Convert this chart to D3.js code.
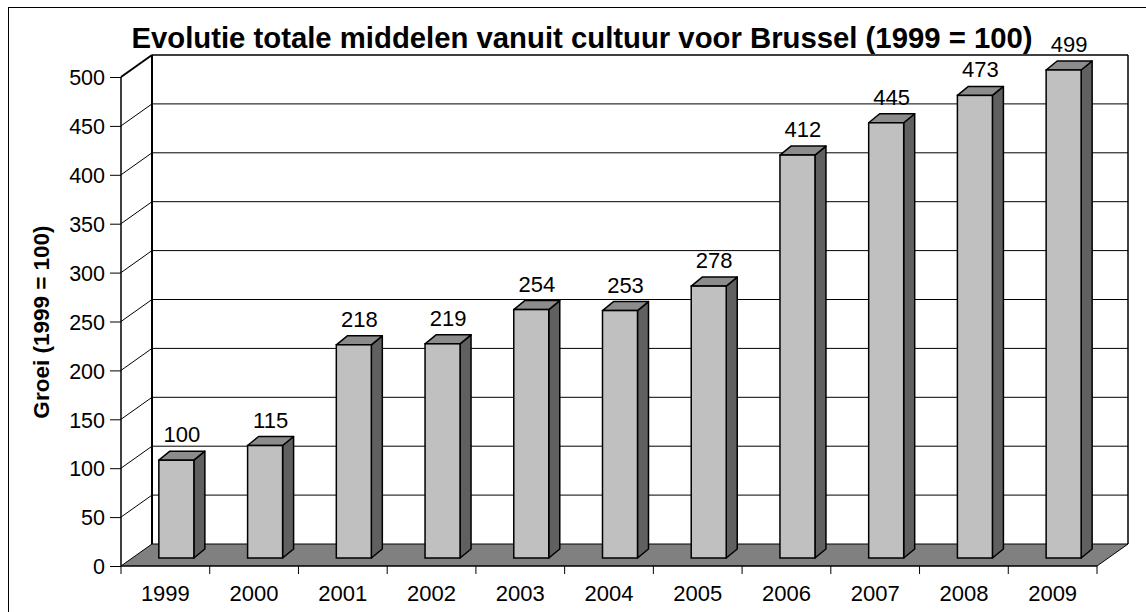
<!DOCTYPE html>
<html><head><meta charset="utf-8">
<script src="https://cdn.jsdelivr.net/npm/d3@7"></script>
<style>body{margin:0;background:#fff;} text{font-family:"Liberation Sans",Arial,sans-serif;}</style>
</head><body>
<svg id="c" width="1146" height="612"></svg>
<script>
const categories = ["1999","2000","2001","2002","2003","2004","2005","2006","2007","2008","2009"];
const values = [100,115,218,219,254,253,278,412,445,473,499];
const yTicks = [0,50,100,150,200,250,300,350,400,450,500];
const title = "Evolutie totale middelen vanuit cultuur voor Brussel (1999 = 100)";
const yTitle = "Groei (1999 = 100)";

const svg = d3.select("#c");
const X0 = 121, X1 = 1097, Y0 = 566, Y1 = 77;
const DX = 31, DY = -22;           // depth of the plot box
const bdx = 11, bdy = -8;          // offset of bar front from front plane
const bDepthX = 11, bDepthY = -9;  // bar depth

const x = d3.scaleBand().domain(categories).range([X0, X1]).paddingInner(0).paddingOuter(0);
const y = d3.scaleLinear().domain([0, 500]).range([Y0, Y1]);

// outer frame
svg.append("rect").attr("x",8.5).attr("y",7.5).attr("width",1160).attr("height",620)
  .attr("fill","#fff").attr("stroke","#000").attr("stroke-width",1);

// title
svg.append("text").attr("x",582).attr("y",48).attr("text-anchor","middle")
  .attr("font-size",29.3).attr("font-weight","bold").text(title);

// floor
svg.append("polygon")
  .attr("points",[[X0,Y0],[X1,Y0],[X1+DX,Y0+DY],[X0+DX,Y0+DY]].map(p=>p.join(",")).join(" "))
  .attr("fill","#808080").attr("stroke","#000").attr("stroke-width",1);

// back wall gridlines + side wall diagonals
const g = svg.append("g");
yTicks.filter(t=>t>0).forEach(t=>{
  const yy = y(t);
  g.append("line").attr("x1",X0+DX).attr("x2",X1+DX).attr("y1",yy+DY).attr("y2",yy+DY)
    .attr("stroke","#000").attr("stroke-width",t===500?1.5:1);
  g.append("line").attr("x1",X0).attr("y1",yy).attr("x2",X0+DX).attr("y2",yy+DY)
    .attr("stroke","#000").attr("stroke-width",t===500?2:1);
});
// back wall edges
g.append("line").attr("x1",X0+DX).attr("x2",X0+DX).attr("y1",y(500)+DY).attr("y2",Y0+DY)
  .attr("stroke","#000").attr("stroke-width",2);
g.append("line").attr("x1",X1+DX).attr("x2",X1+DX).attr("y1",y(500)+DY).attr("y2",Y0+DY)
  .attr("stroke","#000").attr("stroke-width",1.5);

// front axis line
svg.append("line").attr("x1",X0).attr("x2",X0).attr("y1",y(500)).attr("y2",Y0)
  .attr("stroke","#000").attr("stroke-width",1.5);
svg.append("line").attr("x1",X0).attr("x2",X1).attr("y1",Y0).attr("y2",Y0)
  .attr("stroke","#000").attr("stroke-width",1);

// y axis ticks + labels
const yAxis = d3.axisLeft(y).tickValues(yTicks).tickSize(11).tickPadding(5);
const ya = svg.append("g").attr("transform",`translate(${X0},0)`).call(yAxis)
  .attr("font-size",21.5).attr("font-family","Liberation Sans, Arial, sans-serif");
ya.select(".domain").remove();
ya.selectAll("text").attr("fill","#000").attr("dy","0.36em");
ya.selectAll("line").attr("stroke","#000");

// x axis ticks at band boundaries
const bounds = categories.map(c=>x(c)).concat([X1]);
svg.selectAll(".xt").data(bounds).enter().append("line")
  .attr("x1",d=>d).attr("x2",d=>d).attr("y1",Y0).attr("y2",Y0+8).attr("stroke","#000");
svg.selectAll(".xl").data(categories).enter().append("text")
  .attr("x",d=>x(d)+x.bandwidth()/2).attr("y",Y0+35).attr("text-anchor","middle")
  .attr("font-size",22).text(d=>d);

// y title
svg.append("text").attr("transform","translate(49,322) rotate(-90)").attr("text-anchor","middle")
  .attr("font-size",22.5).attr("font-weight","bold").text(yTitle);

// bars
const bw = 35;
const bars = svg.selectAll(".bar").data(categories.map((c,i)=>({c,v:values[i]}))).enter().append("g");
bars.each(function(d){
  const s = d3.select(this);
  const xl = x(d.c) + x.bandwidth()/2 - bw/2 + bdx;
  const xr = xl + bw;
  const yb = Y0 + bdy;
  const yt = y(d.v) + bdy;
  s.append("polygon").attr("points",[[xr,yb],[xr+bDepthX,yb+bDepthY],[xr+bDepthX,yt+bDepthY],[xr,yt]].map(p=>p.join(",")).join(" "))
    .attr("fill","#606060").attr("stroke","#000").attr("stroke-width",1.5).attr("stroke-linejoin","round");
  s.append("polygon").attr("points",[[xl,yt],[xr,yt],[xr+bDepthX,yt+bDepthY],[xl+bDepthX,yt+bDepthY]].map(p=>p.join(",")).join(" "))
    .attr("fill","#8c8c8c").attr("stroke","#000").attr("stroke-width",1.5).attr("stroke-linejoin","round");
  s.append("rect").attr("x",xl).attr("y",yt).attr("width",bw).attr("height",yb-yt)
    .attr("fill","#c0c0c0").attr("stroke","#000").attr("stroke-width",1.5);
  s.append("text").attr("x",xl+bw/2+bDepthX/2).attr("y",yt-18).attr("text-anchor","middle")
    .attr("font-size",22).text(d.v);
});
</script>
</body></html>
